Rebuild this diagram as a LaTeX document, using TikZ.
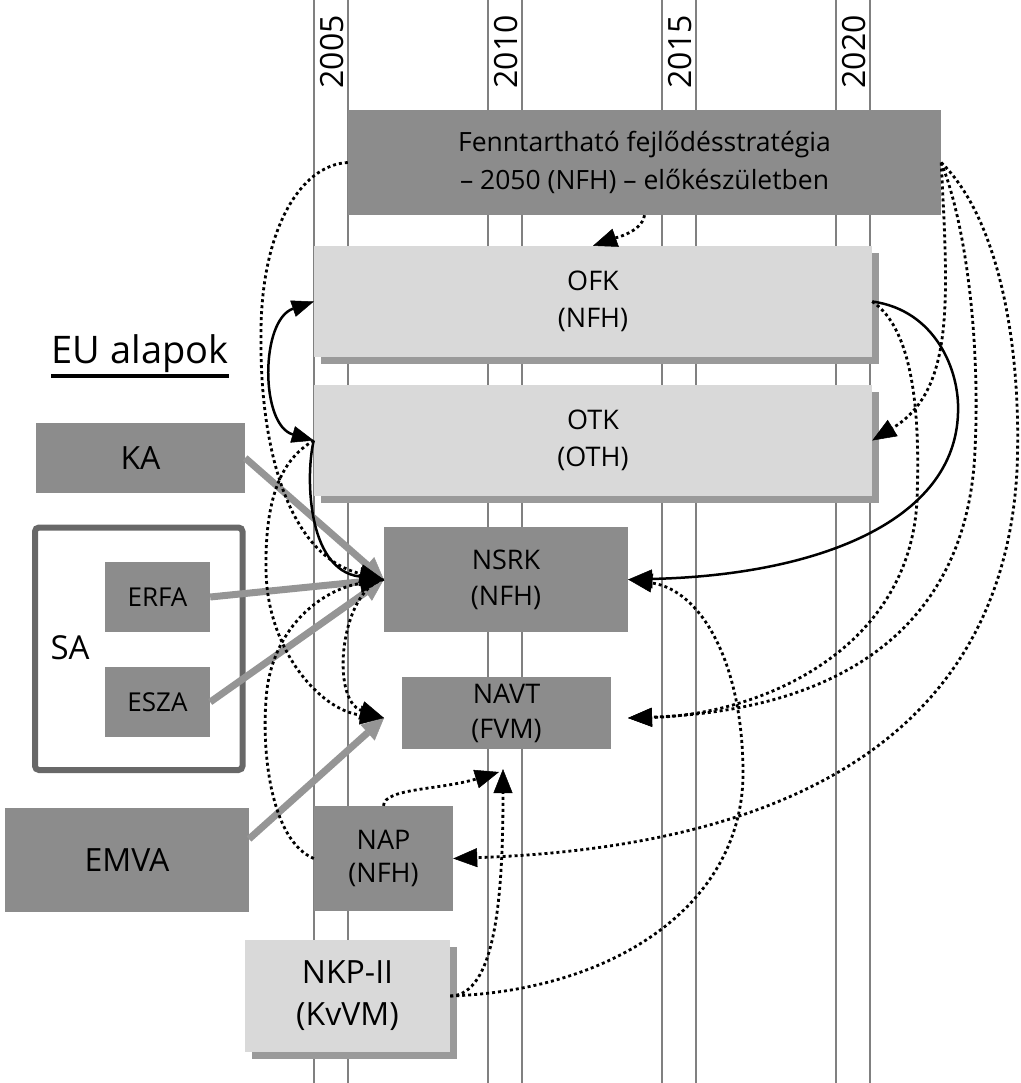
\documentclass[tikz,border=0pt]{standalone}
\usepackage{fontspec}
\setmainfont{Open Sans}
\usetikzlibrary{arrows.meta,shadows}
\definecolor{dgray}{HTML}{8C8C8C}
\definecolor{lgray}{HTML}{D9D9D9}
\definecolor{sgray}{HTML}{9A9A9A}
\definecolor{vgray}{HTML}{808080}
\definecolor{frgray}{HTML}{686868}
\definecolor{agray}{HTML}{959595}
\newcommand\fsz[2]{\fontsize{#1}{#2}\selectfont}
\begin{document}
\begin{tikzpicture}[x=1pt,y=-1pt,
  dbox/.style={fill=dgray, inner sep=0pt, align=center},
  lbox/.style={fill=lgray, inner sep=0pt, align=center,
     general shadow={fill=sgray, shadow xshift=7pt, shadow yshift=-7pt}},
  vline/.style={draw=vgray, line width=1.3pt},
  yr/.style={rotate=90, inner sep=0pt, font=\fsz{32}{36}},
  dots/.style={line width=2.8pt, dash pattern=on 3pt off 3pt},
  bhead/.style={-{Triangle[length=24pt,width=19pt,line width=0.5pt]}},
  bboth/.style={{Triangle[length=22pt,width=17pt,line width=0.5pt]}-{Triangle[length=22pt,width=17pt,line width=0.5pt]}},
  solidc/.style={line width=2.5pt},
  garrow/.style={draw=agray, line width=7pt, -{Triangle[length=22pt,width=21pt,line width=0.5pt,fill=agray]}}
]
\useasboundingbox (0,0) rectangle (1020,1083);
% time axis
\foreach \x in {314,348,488,522,662,696,836,870} \draw[vline] (\x,0) -- (\x,1083);
\node[yr] (y2005) at (332,52) {2005};
\node[yr] (y2010) at (506,52) {2010};
\node[yr] (y2015) at (680,52) {2015};
\node[yr] (y2020) at (854,52) {2020};
% boxes
\node[dbox, minimum width=593pt, minimum height=105pt, font=\fsz{26.5}{38}] (ffs) at (644.5,162.5) {Fenntartható fejlődésstratégia\\– 2050 (NFH) – előkészületben};
\node[lbox, minimum width=558pt, minimum height=111pt, font=\fsz{27}{37}] (ofk) at (593,301.5) {OFK\\(NFH)};
\node[lbox, minimum width=558pt, minimum height=111pt, font=\fsz{27}{37}] (otk) at (593,440.5) {OTK\\(OTH)};
\node[dbox, minimum width=244pt, minimum height=105pt, font=\fsz{27}{36}] (nsrk) at (506,579.5) {NSRK\\(NFH)};
\node[dbox, minimum width=209pt, minimum height=72pt, font=\fsz{27}{35}] (navt) at (506.5,713) {NAVT\\(FVM)};
\node[dbox, minimum width=139pt, minimum height=105pt, font=\fsz{27}{33}] (nap) at (383.5,858.5) {NAP\\(NFH)};
\node[lbox, minimum width=205pt, minimum height=112pt, font=\fsz{32}{42}] (nkp) at (347.5,996) {NKP-II\\(KvVM)};
\node[dbox, minimum width=209pt, minimum height=70pt, font=\fsz{32}{40}] (ka) at (140.5,458) {KA};
\node[draw=frgray, line width=6pt, rounded corners=4pt, minimum width=207.5pt, minimum height=242.5pt, inner sep=0pt] (saframe) at (138.75,648.75) {};
\node[inner sep=0pt, font=\fsz{33}{40}] (salbl) at (70,648) {SA};
\node[dbox, minimum width=105pt, minimum height=70pt, font=\fsz{26}{33}] (erfa) at (157.5,597) {ERFA};
\node[dbox, minimum width=105pt, minimum height=70pt, font=\fsz{26}{33}] (esza) at (157.5,702) {ESZA};
\node[dbox, minimum width=244pt, minimum height=104pt, font=\fsz{32}{40}] (emva) at (127,860) {EMVA};
\node[inner sep=0pt, anchor=base, font=\fsz{38}{48}] (eu) at (140,363) {EU alapok};
\draw[line width=3.5pt] ([yshift=-13pt]eu.base west) -- ([yshift=-13pt]eu.base east);
% connector end points
\coordinate (navtL) at (384,718);
\coordinate (navtR) at (628,718);
\coordinate (navtB) at (503,769);
\coordinate (navtB2) at (499,772);
\coordinate (emvaS) at (249,839);
% EU funds
\draw[garrow] (ka.east) -- (nsrk.west);
\draw[garrow] (erfa.east) -- (nsrk.west);
\draw[garrow] (esza.east) -- (nsrk.west);
\draw[garrow] (emvaS) -- (navtL);
% dotted relations
\draw[dots,bhead] (ffs.south) .. controls (642,232) and (615,238) .. (ofk.north);
\draw[dots,bhead] (ffs.west) .. controls (300,165) and (262,230) .. (261,330) .. controls (259,440) and (285,555) .. (nsrk.west);
\draw[dots,bhead] (otk.west) .. controls (280,460) and (265,500) .. (266,570) .. controls (267,650) and (320,710) .. (navtL);
\draw[dots,bhead] (nap.west) .. controls (270,840) and (262,750) .. (266,700) .. controls (270,630) and (320,590) .. (nsrk.west);
\draw[dots,bhead] (nsrk.west) .. controls (340,590) and (330,700) .. (navtL);
\draw[dots,bhead] (ofk.east) .. controls (915,330) and (920,420) .. (917,500) .. controls (910,650) and (760,715) .. (navtR);
\draw[dots,bhead] (ffs.east) .. controls (948,300) and (955,390) .. (otk.east);
\draw[dots,bhead] (ffs.east) .. controls (968,230) and (980,350) .. (975,450) .. controls (968,620) and (850,710) .. (navtR);
\draw[dots,bhead] (ffs.east) .. controls (1000,220) and (1022,350) .. (1017,470) .. controls (1005,700) and (840,845) .. (nap.east);
\draw[dots,bhead] (nkp.east) .. controls (620,990) and (745,900) .. (743,770) .. controls (742,660) and (700,590) .. (nsrk.east);
\draw[dots,bhead] (nkp.east) .. controls (495,995) and (503,900) .. (navtB);
\draw[dots,bhead] (nap.north) .. controls (384,788) and (440,790) .. (navtB2);
% solid relations
\draw[solidc,bboth] (ofk.west) .. controls (260,320) and (260,425) .. (otk.west);
\draw[solidc,bhead] (otk.west) .. controls (306,470) and (305,570) .. (nsrk.west);
\draw[solidc,bhead] (ofk.east) .. controls (935,310) and (960,370) .. (958,413) .. controls (955,520) and (820,575) .. (nsrk.east);
\end{tikzpicture}
\end{document}
